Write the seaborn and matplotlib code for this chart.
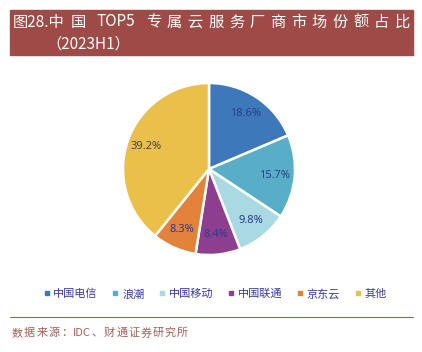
import matplotlib
matplotlib.use("Agg")
import matplotlib.pyplot as plt
import seaborn as sns
from matplotlib.patches import Rectangle
from matplotlib.lines import Line2D

categories = ["中国电信", "浪潮", "中国移动", "中国联通", "京东云", "其他"]
shares = [18.6, 15.7, 9.8, 8.4, 8.3, 39.2]
colors = ["#3D78BA", "#59AEC7", "#A9D9E3", "#8E3E8F", "#E3823A", "#EBC04A"]
title_line1 = "图28.中国 TOP5 专属云服务厂商市场份额占比"
title_line2 = "（2023H1）"
source = "数据来源：IDC、财通证券研究所"

sns.set_style("white")
plt.rcParams["font.family"] = ["Noto Sans CJK SC", "DejaVu Sans"]

W, H = 422, 352
fig = plt.figure(figsize=(W / 100, H / 100), dpi=100)
renderer = fig.canvas.get_renderer()


def tokenize(s):
    toks, cur = [], ""
    for ch in s:
        if ch.isascii() and ch != " ":
            cur += ch
        else:
            if cur:
                toks.append(cur)
                cur = ""
            toks.append("" if ch == " " else ch)
    if cur:
        toks.append(cur)
    return toks


def spread_tokens(toks, x0, x1, y, **kw):
    """Place tokens so they span from x0 to x1 (pixels) with even gaps."""
    parts = []
    for tok in toks:
        if tok:
            t = fig.text(0, 0, tok, **kw)
            parts.append((t, t.get_window_extent(renderer).width))
        else:
            parts.append((None, 0))
    total = sum(w for _, w in parts)
    gap = (x1 - x0 - total) / max(len(parts) - 1, 1)
    x = x0
    for t, w in parts:
        if t is not None:
            t.set_position((x / W, 1 - y / H))
            t.set_ha("left")
            t.set_va("center")
        x += w + gap


# Title bar
fig.patches.append(Rectangle((10 / W, 1 - 55 / H), 403 / W, 45 / H,
                             transform=fig.transFigure, color="#9E4B47", zorder=0))
title_toks = [title_line1[:5]] + tokenize(title_line1[5:])
spread_tokens(title_toks, 13, 410, 22, color="white", fontsize=11)
fig.text(46 / W, 1 - 44 / H, title_line2, color="white", fontsize=11,
         va="center", ha="left")

# Pie
cx, cy, r = 209, 169, 86
ax = fig.add_axes([(cx - r) / W, 1 - (cy + r) / H, 2 * r / W, 2 * r / H])
wedges, texts, autotexts = ax.pie(
    shares, colors=sns.color_palette(colors), startangle=90, counterclock=False,
    autopct="%.1f%%", pctdistance=0.77,
    wedgeprops=dict(edgecolor="white", linewidth=1.8),
    textprops=dict(fontsize=8, color="#2E3A8C", family=["Noto Sans", "DejaVu Sans"]))
autotexts[-1].set_color("#444444")
ax.set_xlim(-1, 1)
ax.set_ylim(-1, 1)
ax.set_aspect("equal")
ax.axis("off")

# Legend
handles = [Line2D([0], [0], marker="s", linestyle="", markersize=3.5,
                  markerfacecolor=c, markeredgecolor=c) for c in colors]
fig.legend(handles, categories, loc="center", bbox_to_anchor=(215 / W, 1 - 294 / H),
           ncol=6, frameon=False, fontsize=8, handlelength=0.6, handletextpad=0.3,
           columnspacing=1.3, labelcolor="#3A3A9A")

# Footer
fig.add_artist(Line2D([10 / W, 413 / W], [1 - 317 / H, 1 - 317 / H],
                      transform=fig.transFigure, color="#A0605A", linewidth=0.8))
spread_tokens(tokenize(source), 12, 188, 333, color="#A0605A", fontsize=8)

fig.savefig("out.png", dpi=100)
